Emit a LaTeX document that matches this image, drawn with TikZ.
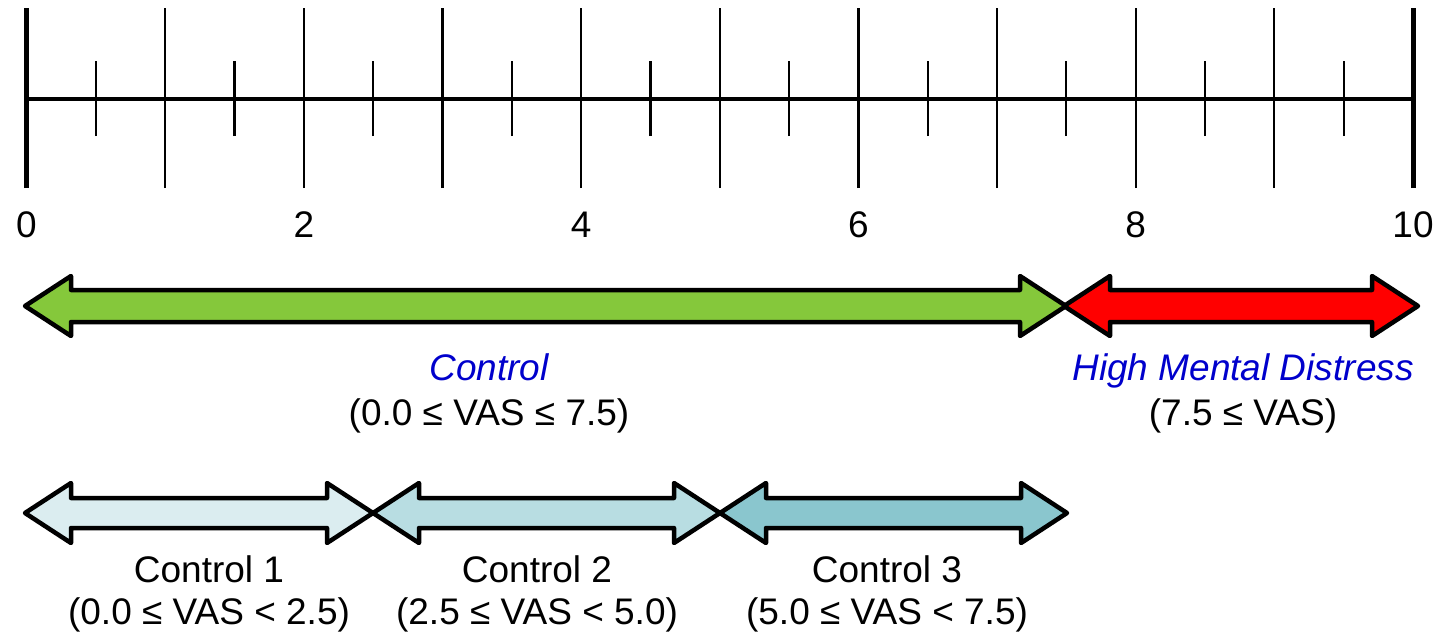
\documentclass[tikz,border=0pt]{standalone}
\usepackage{fontspec}
\setmainfont{Liberation Sans}
\definecolor{ctrlgreen}{HTML}{85C83B}
\definecolor{hmdred}{HTML}{FF0000}
\definecolor{labelblue}{HTML}{0000CC}
\definecolor{aquaA}{HTML}{DBEDF0}
\definecolor{aquaB}{HTML}{B8DDE2}
\definecolor{aquaC}{HTML}{8AC6CE}
\tikzset{
  axisline/.style={line width=4pt},
  endtick/.style={line width=5pt},
  majortick/.style={line width=2.2pt},
  minortick/.style={line width=2.2pt},
  rangearrow/.style={draw=black, line width=4.5pt, line join=round},
  txt/.style={inner sep=0pt, anchor=base, font=\fontsize{37}{41}\selectfont},
  cat/.style={txt, text=labelblue, font=\fontsize{37}{41}\selectfont\itshape},
}
% double-headed range arrow: left tip x, right tip x, centre y, body half-height, fill
\newcommand\rangearrowshape[5]{%
  \draw[rangearrow, fill=#5]
    (#1,#3) -- (#1+46,#3-30) -- (#1+46,#3-#4) -- (#2-46,#3-#4) -- (#2-46,#3-30)
    -- (#2,#3) -- (#2-46,#3+30) -- (#2-46,#3+#4) -- (#1+46,#3+#4) -- (#1+46,#3+30)
    -- cycle;}
\begin{document}
\begin{tikzpicture}[x=1pt,y=-1pt]
  \useasboundingbox (0,0) rectangle (1443,634);

  % scale: 0 .. 10
  \foreach \i in {0,...,10} {
    \coordinate (t\i) at ({26.5+138.65*\i},99);
  }
  \foreach \i in {1,...,9} {
    \draw[majortick] ([yshift=-89pt]t\i) -- ([yshift=91pt]t\i);
  }
  \foreach \i in {0,...,9} {
    \draw[minortick] ([xshift=69.3pt,yshift=-37pt]t\i) -- ([xshift=69.3pt,yshift=38pt]t\i);
  }
  \draw[axisline] (t0) -- (t10);
  \draw[endtick] ([yshift=-89pt]t0) -- ([yshift=91pt]t0);
  \draw[endtick] ([yshift=-89pt]t10) -- ([yshift=91pt]t10);
  \foreach \i in {0,2,...,10} {
    \node[txt] (n\i) at ([yshift=-138pt]t\i) {\i};
  }

  % two-group split
  \rangearrowshape{25}{1066}{306}{16}{ctrlgreen}
  \rangearrowshape{1064}{1418}{306}{16}{hmdred}
  \node[cat] (ctrl) at (489,380) {Control};
  \node[txt] (ctrlr) at (489,425) {(0.0 ≤ VAS ≤ 7.5)};
  \node[cat] (hmd) at (1243,380) {High Mental Distress};
  \node[txt] (hmdr) at (1243,425) {(7.5 ≤ VAS)};

  % three control subgroups
  \rangearrowshape{25}{373}{513}{15}{aquaA}
  \rangearrowshape{373}{720}{513}{15}{aquaB}
  \rangearrowshape{720}{1067}{513}{15}{aquaC}
  \node[txt] (c1) at (209,582) {Control 1};
  \node[txt] (c1r) at (209,624) {(0.0 ≤ VAS < 2.5)};
  \node[txt] (c2) at (537,582) {Control 2};
  \node[txt] (c2r) at (537,624) {(2.5 ≤ VAS < 5.0)};
  \node[txt] (c3) at (887,582) {Control 3};
  \node[txt] (c3r) at (887,624) {(5.0 ≤ VAS < 7.5)};
\end{tikzpicture}
\end{document}
